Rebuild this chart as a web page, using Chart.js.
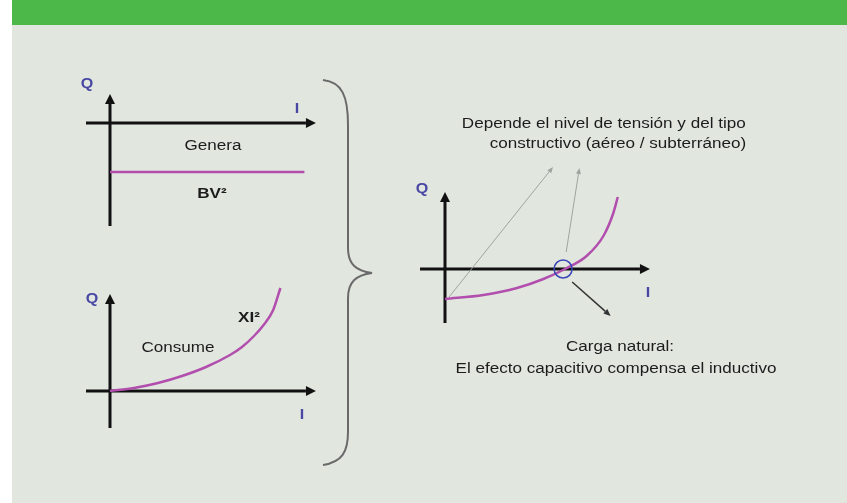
<!DOCTYPE html>
<html>
<head>
<meta charset="utf-8">
<script src="https://cdn.jsdelivr.net/npm/chart.js@4/dist/chart.umd.min.js"></script>
<style>
body { margin: 0; width: 847px; height: 503px; overflow: hidden; background: #fff; font-family: "Liberation Sans", Arial, sans-serif; }
#panel { position: absolute; left: 12px; top: 0; width: 835px; height: 503px; background: #e1e6df; }
#band { position: absolute; left: 12px; top: 0; width: 835px; height: 25px; background: #4cb84a; }
canvas { position: absolute; }
svg { position: absolute; left: 0; top: 0; }
.t { position: absolute; white-space: nowrap; color: #1c1c1c; font-size: 14px; line-height: 1; transform: translate(-50%, -50%) scaleX(1.22); }
.r { position: absolute; white-space: nowrap; color: #1c1c1c; font-size: 14px; line-height: 1; transform: translateY(-50%) scaleX(1.22); transform-origin: right center; }
.ax { color: #4848a4; font-weight: bold; font-size: 14px; transform: translate(-50%, -50%) scaleX(1.15); }
</style>
</head>
<body>
<div id="panel"></div>
<div id="band"></div>

<canvas id="plotGenera" width="240" height="142" style="left:82px;top:88px"></canvas>
<canvas id="plotConsume" width="240" height="150" style="left:82px;top:282px"></canvas>
<canvas id="plotCarga" width="240" height="172" style="left:416px;top:158px"></canvas>

<svg width="847" height="503">
  <path d="M323,80 C342,82 348,96 348,125 L348,248 C348,264 356,271 372,273 C356,275 348,282 348,298 L348,432 C348,452 342,462 323,465"
        fill="none" stroke="#6a6a6a" stroke-width="2"/>
</svg>

<!-- axis labels -->
<div class="t ax" style="left:87px;top:83px">Q</div>
<div class="t ax" style="left:297px;top:108px">I</div>
<div class="t ax" style="left:92px;top:298px">Q</div>
<div class="t ax" style="left:302px;top:414px">I</div>
<div class="t ax" style="left:422px;top:188px">Q</div>
<div class="t ax" style="left:648px;top:292px">I</div>

<!-- annotations -->
<div class="t" style="left:213px;top:145px">Genera</div>
<div class="t" style="left:212px;top:193px;font-weight:bold">BV²</div>
<div class="t" style="left:178px;top:347px">Consume</div>
<div class="t" style="left:249px;top:317px;font-weight:bold">XI²</div>
<div class="r" style="right:101px;top:123px">Depende el nivel de tensión y del tipo</div>
<div class="r" style="right:101px;top:143px">constructivo (aéreo / subterráneo)</div>
<div class="t" style="left:620px;top:346px">Carga natural:</div>
<div class="t" style="left:616px;top:368px">El efecto capacitivo compensa el inductivo</div>

<script>
// Genera: constant generated reactive power (BV^2), below the I axis
const generaI = [0, 8.1];
const generaQ = [-4.9, -4.9];

// Consume: reactive power consumed grows with XI^2
const consumeI = [0, 1, 2, 3, 4, 5, 5.5, 6, 6.4, 6.8, 7.1];
const consumeQ = [0, 0.3, 0.8, 1.5, 2.4, 3.6, 4.4, 5.5, 6.6, 8.1, 10.3];

// Net curve: XI^2 - BV^2, crossing zero at natural load
const netI = [0, 1.6, 3, 4.1, 5.0, 5.9, 6.6, 7, 7.2];
const netQ = [-3.0, -2.6, -1.9, -1.0, 0, 1.3, 3.3, 5.5, 7.2];
const naturalLoad = [{ x: 4.92, y: 0 }];

// pointer arrows on the right plot: [fromI, fromQ, toI, toQ]
const grayPointers = [[0.17, -2.8, 4.5, 10.2], [5.05, 1.7, 5.6, 10.1]];
const blackPointers = [[5.3, -1.3, 6.9, -4.7]];

function toPoints(xs, ys) {
    return xs.map((v, i) => ({ x: v, y: ys[i] }));
}

function drawArrow(ctx, x1, y1, x2, y2, colour, width, headLen, headHalf) {
    const ang = Math.atan2(y2 - y1, x2 - x1);
    const bx = x2 - headLen * Math.cos(ang);
    const by = y2 - headLen * Math.sin(ang);
    ctx.strokeStyle = colour;
    ctx.fillStyle = colour;
    ctx.lineWidth = width;
    ctx.beginPath();
    ctx.moveTo(x1, y1);
    ctx.lineTo(bx, by);
    ctx.stroke();
    ctx.beginPath();
    ctx.moveTo(x2, y2);
    ctx.lineTo(bx + headHalf * Math.sin(ang), by - headHalf * Math.cos(ang));
    ctx.lineTo(bx - headHalf * Math.sin(ang), by + headHalf * Math.cos(ang));
    ctx.closePath();
    ctx.fill();
}

// Draws the I and Q axes through the origin, plus any pointer arrows
const axesPlugin = {
    id: 'axes',
    beforeDatasetsDraw(chart, args, opts) {
        const { ctx, scales: { x, y } } = chart;
        ctx.save();
        const y0 = y.getPixelForValue(0);
        const x0 = x.getPixelForValue(0);
        drawArrow(ctx, x.getPixelForValue(opts.iRange[0]), y0, x.getPixelForValue(opts.iRange[1]), y0, '#111', 3, 10, 5);
        drawArrow(ctx, x0, y.getPixelForValue(opts.qRange[0]), x0, y.getPixelForValue(opts.qRange[1]), '#111', 3, 10, 5);
        ctx.restore();
    },
    afterDatasetsDraw(chart, args, opts) {
        const { ctx, scales: { x, y } } = chart;
        ctx.save();
        for (p of (opts.gray || [])) {
            drawArrow(ctx, x.getPixelForValue(p[0]), y.getPixelForValue(p[1]), x.getPixelForValue(p[2]), y.getPixelForValue(p[3]), '#a0a4a0', 1, 6, 2.5);
        }
        for (p of (opts.black || [])) {
            drawArrow(ctx, x.getPixelForValue(p[0]), y.getPixelForValue(p[1]), x.getPixelForValue(p[2]), y.getPixelForValue(p[3]), '#333', 1.5, 7, 3);
        }
        ctx.restore();
    }
};

function makePlot(id, datasets, xRange, yRange, axesOpts) {
    return new Chart(id, {
        type: 'scatter',
        data: { datasets: datasets },
        options: {
            responsive: false,
            animation: false,
            layout: { padding: 0, autoPadding: false },
            scales: {
                x: { type: 'linear', display: false, min: xRange[0], max: xRange[1] },
                y: { type: 'linear', display: false, min: yRange[0], max: yRange[1] }
            },
            plugins: {
                legend: { display: false },
                tooltip: { enabled: false },
                axes: axesOpts
            }
        },
        plugins: [axesPlugin]
    });
}

const purple = '#b24fae';

// Genera chart
makePlot('plotGenera', [{
    data: toPoints(generaI, generaQ),
    showLine: true,
    borderColor: purple,
    borderWidth: 2.5,
    pointRadius: 0,
    clip: false
}], [-1.1667, 8.8333], [-10.7, 3.5], { iRange: [-1, 8.58], qRange: [-10.3, 2.9] });

// Consume chart
makePlot('plotConsume', [{
    data: toPoints(consumeI, consumeQ),
    showLine: true,
    borderColor: purple,
    borderWidth: 2.5,
    pointRadius: 0,
    cubicInterpolationMode: 'monotone',
    clip: false
}], [-1.1667, 8.8333], [-4.1, 10.9], { iRange: [-1, 8.58], qRange: [-3.7, 9.7] });

// Natural load chart
makePlot('plotCarga', [{
    data: naturalLoad,
    showLine: false,
    pointRadius: 9,
    pointBorderWidth: 1.5,
    pointBorderColor: '#3a46b8',
    pointBackgroundColor: 'rgba(0,0,0,0)',
    clip: false
}, {
    data: toPoints(netI, netQ),
    showLine: true,
    borderColor: purple,
    borderWidth: 2.5,
    pointRadius: 0,
    cubicInterpolationMode: 'monotone',
    clip: false
}], [-1.2083, 8.7917], [-6.1, 11.1], {
    iRange: [-1.04, 8.54], qRange: [-5.4, 7.7],
    gray: grayPointers, black: blackPointers
});
</script>
</body>
</html>
